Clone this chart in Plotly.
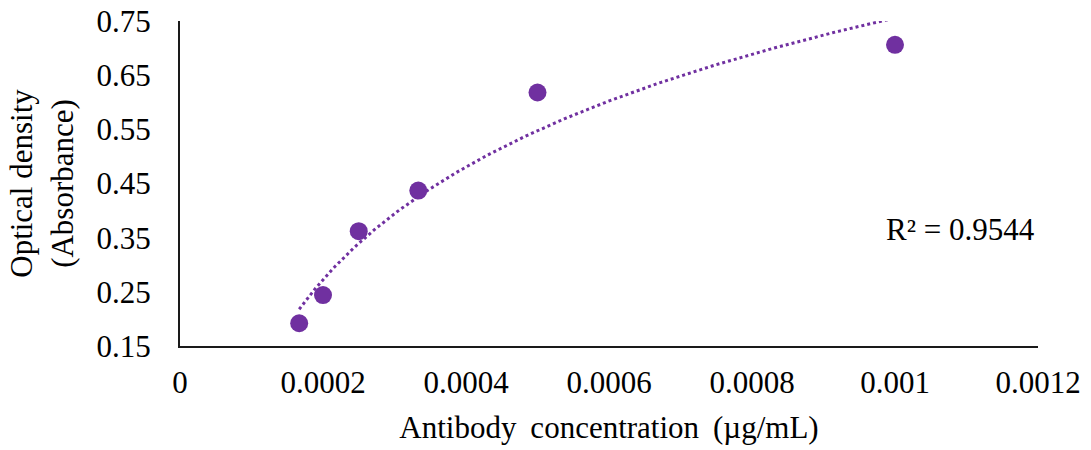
import numpy as np
import plotly.graph_objects as go

concentration = [0.0001667, 0.0002, 0.00025, 0.0003333, 0.0005, 0.001]
absorbance = [0.192, 0.244, 0.362, 0.437, 0.618, 0.706]
x_ticks = [0, 0.0002, 0.0004, 0.0006, 0.0008, 0.001, 0.0012]
x_tick_text = ["0", "0.0002", "0.0004", "0.0006", "0.0008", "0.001", "0.0012"]
y_ticks = [0.15, 0.25, 0.35, 0.45, 0.55, 0.65, 0.75]
y_tick_text = ["0.15", "0.25", "0.35", "0.45", "0.55", "0.65", "0.75"]
r2_label = "R² = 0.9544"

color = "#7030A0"
font = "Liberation Serif, Times New Roman, serif"
fs = 31

# logarithmic trendline fitted from the data
lx = np.log(np.array(concentration))
slope, intercept = np.polyfit(lx, np.array(absorbance), 1)
tx = np.exp(np.linspace(lx.min(), lx.max(), 200))
ty = slope * np.log(tx) + intercept

fig = go.Figure()
fig.add_trace(go.Scatter(x=tx, y=ty, mode="lines",
                         line=dict(color=color, width=3, dash="dot"),
                         hoverinfo="skip", showlegend=False))
fig.add_trace(go.Scatter(x=concentration, y=absorbance, mode="markers",
                         marker=dict(color=color, size=18),
                         showlegend=False))

fig.add_annotation(x=0.001092, y=0.3655, xref="x", yref="y", text=r2_label,
                   showarrow=False, xanchor="center", yanchor="middle",
                   font=dict(family=font, size=fs, color="#000"))

fig.update_layout(
    width=1091, height=450,
    margin=dict(l=180, r=53, t=21, b=104),
    paper_bgcolor="white", plot_bgcolor="white",
    font=dict(family=font, size=fs, color="#000"),
    xaxis=dict(range=[0, 0.0012], tickvals=x_ticks, ticktext=x_tick_text,
               showgrid=False, zeroline=False, showline=True,
               linecolor="#1a1a1a", linewidth=2, ticks="",
               ticklabelstandoff=8, automargin=False,
               title=dict(text="Antibody\u2009 concentration\u2009 (µg/mL)",
                          font=dict(size=fs), standoff=17)),
    yaxis=dict(range=[0.15, 0.75], tickvals=y_ticks, ticktext=y_tick_text,
               showgrid=False, zeroline=False, showline=True,
               linecolor="#1a1a1a", linewidth=2, ticks="",
               ticklabelstandoff=21, automargin=False,
               title=dict(text="Optical density<br>(Absorbance)",
                          font=dict(size=fs), standoff=14)),
)

fig.write_html("out.html",
               config={"displayModeBar": False},
               post_script="document.body.style.margin='0';document.body.style.overflow='hidden';")
